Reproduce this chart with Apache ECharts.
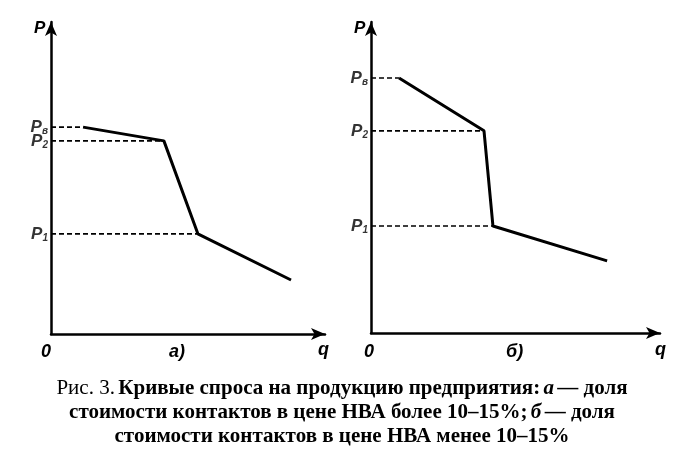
<!DOCTYPE html>
<html><head><meta charset="utf-8">
<script src="https://cdn.jsdelivr.net/npm/echarts@6/dist/echarts.min.js"></script>
<style>html,body{margin:0;padding:0;background:#fff}#c{width:684px;height:456px}</style>
</head><body><div id="c"></div>
<script>
// Curve A (left panel): [q, P]
const curveA = [[11.7, 66.3], [41.2, 61.9], [53.6, 32.1], [87.6, 17.3]];
// Curve B (right panel)
const curveB = [[9.7, 82.0], [39.1, 65.0], [42.2, 34.4], [81.7, 23.2]];
// price level labels
const levelNames = ['в', '2', '1'];

const chart = echarts.init(document.getElementById('c'));
const F = '"Liberation Sans", Arial, sans-serif';
const lab = {fontFamily: F, fontWeight: 'bold', fontStyle: 'italic', fontSize: 17, color: '#000'};

function axisSet(i) {
  return {
    x: {type: 'value', gridIndex: i, min: 0, max: 100, axisLine: {lineStyle: {color: '#000', width: 2.5}, symbol: ['none', 'arrow'], symbolSize: [9, 14]}, axisTick: {show: false}, axisLabel: {show: false}, splitLine: {show: false}},
    y: {type: 'value', gridIndex: i, min: 0, max: 100, axisLine: {lineStyle: {color: '#000', width: 2.5}, symbol: ['none', 'arrow'], symbolSize: [9, 14]}, axisTick: {show: false}, axisLabel: {show: false}, splitLine: {show: false}}
  };
}
const a0 = axisSet(0), a1 = axisSet(1);

function panelSeries(curve, gi) {
  const s = [];
  s.push({type: 'line', xAxisIndex: gi, yAxisIndex: gi, data: curve, symbol: 'none', lineStyle: {color: '#000', width: 3}, z: 5});
  for (let k = 0; k < 3; k++) {
    const p = curve[k];
    s.push({type: 'line', xAxisIndex: gi, yAxisIndex: gi, data: [[0, p[1]], [p[0], p[1]]], symbol: 'none', lineStyle: {color: '#000', width: 1.6, type: [5, 3]}, z: 3});
  }
  s.push({type: 'scatter', xAxisIndex: gi, yAxisIndex: gi, symbolSize: 0,
    data: [[0, curve[0][1], levelNames[0]], [0, curve[1][1], levelNames[1]], [0, curve[2][1], levelNames[2]]],
    label: {show: true, position: 'left', distance: 3,
      formatter: p => '{p|P}{s|' + p.data[2] + '}',
      rich: {p: Object.assign({}, lab, {fontSize: 17}), s: Object.assign({}, lab, {fontSize: 10, padding: [9, 0, 0, 0]})}}
  });
  return s;
}

const cap = {fontFamily: '"Liberation Serif", "DejaVu Serif", serif', fontWeight: 'bold', fontSize: 21, color: '#000'};
const capRich = {
  n: Object.assign({}, cap, {fontWeight: 'normal'}),
  b: Object.assign({}, cap),
  i: Object.assign({}, cap, {fontStyle: 'italic'})
};
const capLines = [
  '{n|Рис. 3.} {b|Кривые спроса на продукцию предприятия:} {i|а} {b|— доля}',
  '{b|стоимости контактов в цене НВА более 10–15%;} {i|б} {b|— доля}',
  '{b|стоимости контактов в цене НВА менее 10–15%}'
];
const big = Object.assign({}, lab, {fontSize: 18});

chart.setOption({
  animation: false,
  grid: [{left: 51, top: 22, width: 274, height: 312}, {left: 371, top: 22, width: 289, height: 311}],
  xAxis: [a0.x, a1.x],
  yAxis: [a0.y, a1.y],
  series: panelSeries(curveA, 0).concat(panelSeries(curveB, 1)),
  graphic: [
    {type: 'text', left: 34, top: 20, style: Object.assign({text: 'P'}, lab)},
    {type: 'text', left: 354, top: 20, style: Object.assign({text: 'P'}, lab)},
    {type: 'text', left: 41, top: 343, style: Object.assign({text: '0'}, big)},
    {type: 'text', left: 364, top: 343, style: Object.assign({text: '0'}, big)},
    {type: 'text', left: 169, top: 343, style: Object.assign({text: 'а)'}, big)},
    {type: 'text', left: 506, top: 343, style: Object.assign({text: 'б)'}, big)},
    {type: 'text', left: 318, top: 341, style: Object.assign({text: 'q'}, big)},
    {type: 'text', left: 655, top: 341, style: Object.assign({text: 'q'}, big)}
  ].concat(capLines.map((t, k) => ({
    type: 'text', left: 'center', top: 378 + k * 24,
    style: {text: t, rich: capRich}
  })))
});
</script></body></html>
